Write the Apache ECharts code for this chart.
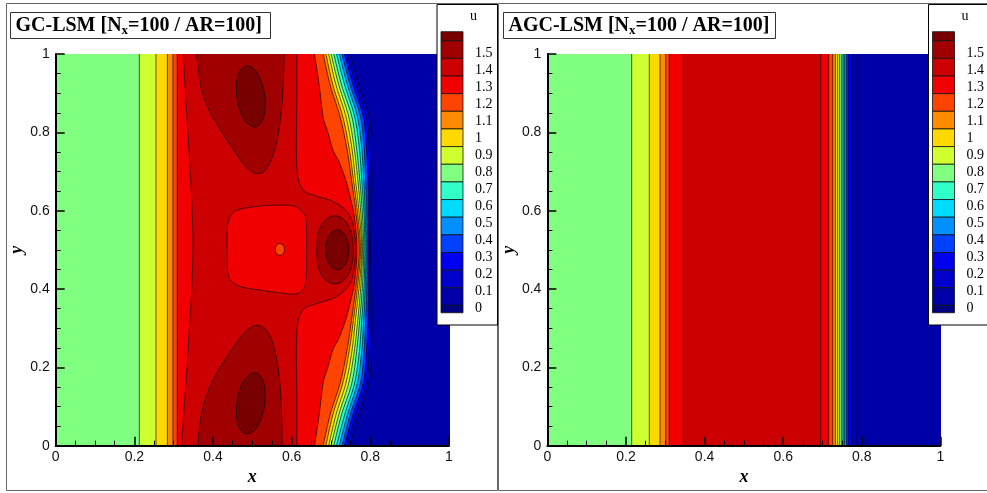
<!DOCTYPE html>
<html>
<head>
<meta charset="utf-8">
<title>GC-LSM / AGC-LSM contours of u</title>
<script src="https://cdn.jsdelivr.net/npm/echarts@6/dist/echarts.min.js"></script>
<style>
  html, body { margin: 0; padding: 0; background: #fff; }
  #chart { width: 987px; height: 493px; }
</style>
</head>
<body>
<div id="chart"></div>
<script>
// ---- colour key (bottom -> top), the last colour is "above 1.5" ----
const keyLabels = ['0', '0.1', '0.2', '0.3', '0.4', '0.5', '0.6', '0.7', '0.8', '0.9', '1', '1.1', '1.2', '1.3', '1.4', '1.5'];
const keyColors = ['#000080', '#0000a8', '#0000cc', '#0000f0', '#0040ff', '#0090ff', '#00dcff', '#30ffc8',
                   '#80ff80', '#d0ff30', '#ffd800', '#ff8c00', '#ff4400', '#f00000', '#cc0000', '#a00000', '#780000'];

// ---- GC-LSM panel: contour lines ----
// the shock front: x of each band's right edge at the heights in frontY
const frontY  = [0, 0.08, 0.16, 0.24, 0.32, 0.41, 0.5, 0.59, 0.68, 0.76, 0.84, 0.92, 1];
const front12 = [0.680, 0.698, 0.723, 0.740, 0.752, 0.764, 0.772, 0.764, 0.752, 0.740, 0.723, 0.698, 0.680];
const front11 = [0.687, 0.705, 0.730, 0.746, 0.757, 0.768, 0.775, 0.768, 0.757, 0.746, 0.730, 0.705, 0.687];
const front10 = [0.694, 0.713, 0.738, 0.753, 0.762, 0.772, 0.778, 0.772, 0.762, 0.753, 0.738, 0.713, 0.694];
const front09 = [0.700, 0.720, 0.745, 0.759, 0.768, 0.776, 0.780, 0.776, 0.768, 0.759, 0.745, 0.720, 0.700];
const front08 = [0.707, 0.727, 0.753, 0.765, 0.773, 0.780, 0.783, 0.780, 0.773, 0.765, 0.753, 0.727, 0.707];
const front07 = [0.714, 0.735, 0.760, 0.772, 0.778, 0.784, 0.786, 0.784, 0.778, 0.772, 0.760, 0.735, 0.714];
const front06 = [0.721, 0.742, 0.767, 0.778, 0.783, 0.787, 0.789, 0.787, 0.783, 0.778, 0.767, 0.742, 0.721];
const front05 = [0.728, 0.749, 0.775, 0.784, 0.788, 0.791, 0.792, 0.791, 0.788, 0.784, 0.775, 0.749, 0.728];
const front04 = [0.734, 0.756, 0.782, 0.790, 0.794, 0.795, 0.794, 0.795, 0.794, 0.790, 0.782, 0.756, 0.734];
const front03 = [0.741, 0.764, 0.790, 0.797, 0.799, 0.799, 0.797, 0.799, 0.799, 0.797, 0.790, 0.764, 0.741];
const front02 = [0.748, 0.771, 0.797, 0.803, 0.804, 0.803, 0.800, 0.803, 0.804, 0.803, 0.797, 0.771, 0.748];
const frontBands = [0.2, 0.3, 0.4, 0.5, 0.6, 0.7, 0.8, 0.9, 1.0, 1.1, 1.2];

// straight contours on the left (rarefaction side): band -> left edge x
const gcSideBands = [0.9, 1.0, 1.1, 1.2, 1.3];
const gcSideX     = [0.2126, 0.255, 0.284, 0.298, 0.309];

// band 1.3, right edge (top -> bottom)
const edge13R = [[0.658, 1.0], [0.670, 0.92], [0.680, 0.84], [0.692, 0.80], [0.705, 0.755], [0.718, 0.73],
                 [0.730, 0.70], [0.740, 0.67], [0.750, 0.63], [0.760, 0.58], [0.766, 0.50], [0.760, 0.42],
                 [0.750, 0.37], [0.740, 0.33], [0.730, 0.30], [0.718, 0.27], [0.705, 0.245], [0.692, 0.20],
                 [0.680, 0.16], [0.670, 0.08], [0.658, 0.0]];
// band 1.4, left edge (bottom -> top) and right edge (top -> bottom)
const edge14L = [[0.320, 0.0], [0.327, 0.1], [0.334, 0.2], [0.340, 0.3], [0.346, 0.4], [0.349, 0.5],
                 [0.347, 0.6], [0.342, 0.7], [0.336, 0.8], [0.330, 0.9], [0.324, 1.0]];
const edge14R = [[0.613, 1.0], [0.613, 0.87], [0.612, 0.75], [0.616, 0.685], [0.630, 0.652], [0.660, 0.638],
                 [0.700, 0.626], [0.732, 0.606], [0.752, 0.578], [0.761, 0.53], [0.762, 0.5], [0.761, 0.47],
                 [0.752, 0.422], [0.732, 0.394], [0.700, 0.374], [0.660, 0.362], [0.630, 0.348], [0.616, 0.315],
                 [0.612, 0.25], [0.613, 0.13], [0.613, 0.0]];
// closed pockets
const plateau13 = [[0.436, 0.500], [0.437, 0.560], [0.448, 0.592], [0.470, 0.604], [0.520, 0.612], [0.570, 0.614],
                   [0.605, 0.612], [0.628, 0.596], [0.637, 0.570], [0.638, 0.500], [0.637, 0.430], [0.630, 0.400],
                   [0.612, 0.388], [0.580, 0.389], [0.520, 0.397], [0.475, 0.405], [0.450, 0.417], [0.438, 0.440]];
const dip12 = [[0.570, 0.516], [0.579, 0.511], [0.5815, 0.501], [0.579, 0.491], [0.570, 0.486], [0.561, 0.491],
               [0.5585, 0.501], [0.561, 0.511]];
const capTop15 = [[0.358, 1.0], [0.364, 0.95], [0.372, 0.905], [0.388, 0.86], [0.409, 0.823], [0.432, 0.785],
                  [0.452, 0.755], [0.475, 0.722], [0.498, 0.700], [0.515, 0.695], [0.533, 0.703], [0.550, 0.735],
                  [0.563, 0.78], [0.572, 0.84], [0.578, 0.91], [0.581, 1.0]];
const capBot15 = [[0.362, 0.0], [0.366, 0.05], [0.375, 0.10], [0.390, 0.145], [0.409, 0.185], [0.432, 0.222],
                  [0.452, 0.252], [0.475, 0.284], [0.497, 0.303], [0.515, 0.307], [0.535, 0.296], [0.550, 0.268],
                  [0.562, 0.220], [0.570, 0.16], [0.574, 0.09], [0.576, 0.0]];
const ring15 = [[0.710, 0.587], [0.735, 0.575], [0.751, 0.545], [0.757, 0.500], [0.751, 0.455], [0.735, 0.425],
                [0.710, 0.413], [0.684, 0.425], [0.668, 0.455], [0.664, 0.500], [0.668, 0.545], [0.684, 0.575]];
const coreTop16 = [[0.485, 0.970], [0.513, 0.951], [0.531, 0.897], [0.529, 0.840], [0.508, 0.814], [0.479, 0.833],
                   [0.461, 0.887], [0.463, 0.944]];
const coreBot16 = [[0.485, 0.030], [0.513, 0.049], [0.531, 0.103], [0.529, 0.160], [0.508, 0.186], [0.479, 0.167],
                   [0.461, 0.113], [0.463, 0.056]];
const coreMid16 = [[0.716, 0.551], [0.737, 0.536], [0.7455, 0.500], [0.737, 0.464], [0.716, 0.449], [0.695, 0.464],
                   [0.6865, 0.500], [0.695, 0.536]];

// ---- AGC-LSM panel: all contours are straight, x of each band's edges ----
const agcBands  = [0.2, 0.3, 0.4, 0.5, 0.6, 0.7, 0.8, 0.9, 1.0, 1.1, 1.2, 1.3, 1.4];
const agcRightX = [0.785, 0.776, 0.765, 0.7608, 0.7557, 0.7524, 0.749, 0.7438, 0.7387, 0.7328, 0.7259, 0.7157, 0.6954];
const agcSideBands = [0.9, 1.0, 1.1, 1.2, 1.3, 1.4];
const agcSideX     = [0.2145, 0.2593, 0.2865, 0.301, 0.310, 0.3458];

const axisTicks = [0, 0.2, 0.4, 0.6, 0.8, 1];

// ------------------------------------------------------------------
const EXT = 0.15; // fills run past the frame and get clipped by the grid

function bandColor(v) { return keyColors[Math.round(v * 10)]; }
const line  = pts => ({ pts, smooth: false });
const curve = pts => ({ pts, smooth: true });
const loop  = pts => ({ pts, smooth: true, closed: true });
const layer = (band, pieces, stroke = true) => ({ band, pieces, stroke });
const first = a => a[0];
const last  = a => a[a.length - 1];

// painter's order: every layer covers what was drawn below it
const gcLayers = [layer(0.1, [line([[-EXT, -EXT], [-EXT, 1 + EXT], [1 + EXT, 1 + EXT], [1 + EXT, -EXT]])], false)];
const frontXs = [front02, front03, front04, front05, front06, front07, front08, front09, front10, front11, front12];
frontBands.forEach((b, k) => {
    const pts = frontY.map((y, i) => [frontXs[k][i], y]).reverse();
    const s = gcSideBands.indexOf(b);
    const xl = s < 0 ? -EXT : gcSideX[s];
    gcLayers.push(layer(b, [line([[xl, -EXT], [xl, 1 + EXT], [first(pts)[0], 1 + EXT]]), curve(pts), line([[last(pts)[0], -EXT]])]));
});
gcLayers.push(layer(1.3, [line([[gcSideX[4], -EXT], [gcSideX[4], 1 + EXT], [first(edge13R)[0], 1 + EXT]]),
                          curve(edge13R), line([[last(edge13R)[0], -EXT]])]));
gcLayers.push(layer(1.4, [line([[first(edge14L)[0], -EXT]]), curve(edge14L),
                          line([[last(edge14L)[0], 1 + EXT], [first(edge14R)[0], 1 + EXT]]),
                          curve(edge14R), line([[last(edge14R)[0], -EXT]])]));
gcLayers.push(layer(1.3, [loop(plateau13)]));
gcLayers.push(layer(1.2, [loop(dip12)]));
gcLayers.push(layer(1.5, [line([[first(capTop15)[0], 1 + EXT]]), curve(capTop15), line([[last(capTop15)[0], 1 + EXT]])]));
gcLayers.push(layer(1.5, [line([[first(capBot15)[0], -EXT]]), curve(capBot15), line([[last(capBot15)[0], -EXT]])]));
gcLayers.push(layer(1.5, [loop(ring15)]));
[coreTop16, coreBot16, coreMid16].forEach(c => gcLayers.push(layer(1.6, [loop(c)])));

const agcLayers = [layer(0.1, [line([[-EXT, -EXT], [-EXT, 1 + EXT], [1 + EXT, 1 + EXT], [1 + EXT, -EXT]])], false)];
agcBands.forEach((b, k) => {
    const s = agcSideBands.indexOf(b);
    const xl = s < 0 ? -EXT : agcSideX[s];
    const xr = agcRightX[k];
    agcLayers.push(layer(b, [line([[xl, -EXT], [xl, 1 + EXT], [xr, 1 + EXT], [xr, -EXT]])]));
});

// Catmull-Rom through pixel points
function spline(pts, closed) {
    const n = pts.length, out = [], STEPS = 10;
    const at = i => closed ? pts[(i + n) % n] : pts[Math.min(n - 1, Math.max(0, i))];
    const segs = closed ? n : n - 1;
    for (let i = 0; i < segs; i++) {
        const p0 = at(i - 1), p1 = at(i), p2 = at(i + 1), p3 = at(i + 2);
        for (let s = (i === 0 ? 0 : 1); s <= STEPS; s++) {
            const t = s / STEPS, t2 = t * t, t3 = t2 * t;
            out.push([0, 1].map(d => 0.5 * (2 * p1[d] + (p2[d] - p0[d]) * t +
                (2 * p0[d] - 5 * p1[d] + 4 * p2[d] - p3[d]) * t2 +
                (3 * p1[d] - p0[d] - 3 * p2[d] + p3[d]) * t3)));
        }
    }
    return out;
}

function contourSeries(layers, idx) {
    return {
        type: 'custom',
        xAxisIndex: idx,
        yAxisIndex: idx,
        clip: true,
        silent: true,
        encode: { x: 0, y: 1 },
        data: layers.map((l, i) => [0.5, 0.5, i]),
        renderItem: (params, api) => {
            const L = layers[params.dataIndex];
            const points = [];
            L.pieces.forEach(p => {
                const px = p.pts.map(q => api.coord(q));
                if (p.smooth) points.push(...spline(px, p.closed));
                else points.push(...px);
            });
            return {
                type: 'polygon',
                shape: { points },
                style: { fill: bandColor(L.band), stroke: L.stroke ? 'rgba(0,0,0,0.8)' : null, lineWidth: 0.8 }
            };
        }
    };
}

function axis(kind, idx, name, nameGap) {
    return {
        type: 'value',
        gridIndex: idx,
        min: 0,
        max: 1,
        interval: 0.2,
        z: 10,
        name,
        nameLocation: 'middle',
        nameGap,
        nameTextStyle: { fontFamily: 'Liberation Serif', fontWeight: 'bold', fontStyle: 'italic', fontSize: 18, color: '#000' },
        axisLine: { lineStyle: { color: '#000', width: 2 } },
        axisTick: { inside: true, length: 9, lineStyle: { color: '#000', width: 1.5 } },
        minorTick: { show: true, splitNumber: 4, length: 5, lineStyle: { color: '#000', width: 1 } },
        splitLine: { show: false },
        axisLabel: {
            fontFamily: 'Liberation Sans', fontSize: 14, color: '#111', margin: kind === 'x' ? 4 : 6,
            showMinLabel: true, showMaxLabel: true,
            formatter: v => String(axisTicks.find(t => Math.abs(t - v) < 1e-6) ?? v)
        }
    };
}

function titleBox(x, w, head) {
    return [
        { type: 'rect', z: 20, shape: { x: x + 0.5, y: 12.5, width: w, height: 26 },
          style: { fill: '#fff', stroke: '#333', lineWidth: 1 } },
        { type: 'text', z: 21, style: {
            x: x + 5.5, y: 25.5, verticalAlign: 'middle', align: 'left',
            text: '{m|' + head + ' [N}{s|x}{m|=100 / AR=100]}',
            rich: {
                m: { fontFamily: 'Liberation Serif', fontWeight: 'bold', fontSize: 20, lineHeight: 24, fill: '#000' },
                s: { fontFamily: 'Liberation Serif', fontWeight: 'bold', fontSize: 13, lineHeight: 14, verticalAlign: 'bottom', fill: '#000' }
            } } }
    ];
}

function keyBox(left, width) {
    const g = [{ type: 'rect', z: 20, shape: { x: left + 0.5, y: 4.5, width, height: 320.5 },
                 style: { fill: '#fff', stroke: '#000', lineWidth: 1 } },
               { type: 'text', z: 21, style: { x: left + 37, y: 16, text: 'u', align: 'center', verticalAlign: 'middle',
                 font: '14px "Liberation Serif"', fill: '#000' } }];
    let y = 31.7;
    for (let i = keyColors.length - 1; i >= 0; i--) {
        const h = i === keyColors.length - 1 ? 9 : (i === 0 ? 7.3 : 17.65);
        g.push({ type: 'rect', z: 21, shape: { x: left + 4.5, y, width: 22, height: h },
                 style: { fill: keyColors[i], stroke: '#111', lineWidth: 0.8 } });
        y += h;
    }
    keyLabels.forEach((t, i) => {
        g.push({ type: 'text', z: 21, style: { x: left + 38.5, y: 308.3 - 17 * i, text: t, verticalAlign: 'middle',
                 font: '14px "Liberation Serif"', fill: '#000' } });
    });
    return g;
}

const chart = echarts.init(document.getElementById('chart'));
chart.setOption({
    animation: false,
    backgroundColor: '#fff',
    grid: [
        { left: 55.7, top: 54, width: 393.3, height: 391.7, outerBoundsMode: 'none' },
        { left: 547.4, top: 54, width: 393, height: 391.7, outerBoundsMode: 'none' }
    ],
    xAxis: [axis('x', 0, 'x', 17), axis('x', 1, 'x', 17)],
    yAxis: [axis('y', 0, 'y', 24), axis('y', 1, 'y', 23)],
    series: [contourSeries(gcLayers, 0), contourSeries(agcLayers, 1)],
    graphic: [
        { type: 'rect', z: 5, shape: { x: 6.5, y: 3.5, width: 491, height: 487 }, style: { fill: null, stroke: '#666', lineWidth: 1 } },
        { type: 'rect', z: 5, shape: { x: 498.5, y: 3.5, width: 495, height: 487 }, style: { fill: null, stroke: '#666', lineWidth: 1 } },
        ...titleBox(10, 260, 'GC-LSM'),
        ...titleBox(503, 272, 'AGC-LSM'),
        ...keyBox(436.5, 60.5),
        ...keyBox(928, 80)
    ]
});
</script>
</body>
</html>
